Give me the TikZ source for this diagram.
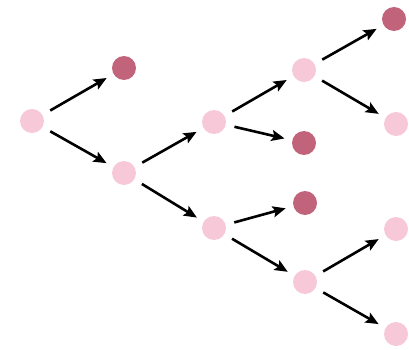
\documentclass[tikz,border=0pt]{standalone}
\usetikzlibrary{arrows.meta}
\definecolor{lightp}{HTML}{F7C8D7}
\definecolor{darkp}{HTML}{C2637C}
\begin{document}
\begin{tikzpicture}[x=1pt,y=-1pt,
  lnode/.style={circle,fill=lightp,minimum size=24pt,inner sep=0pt,outer sep=0pt},
  dnode/.style={circle,fill=darkp,minimum size=24pt,inner sep=0pt,outer sep=0pt},
  arr/.style={line width=2.6pt,-{Stealth[length=13pt,width=11pt,inset=2.5pt]},shorten <=9pt,shorten >=8pt}]
\useasboundingbox (0,0) rectangle (409,350);
\node[lnode] (a) at (32,121) {};
\node[dnode] (b) at (124,68) {};
\node[lnode] (c) at (124,173) {};
\node[lnode] (d) at (214,122) {};
\node[lnode] (e) at (214,228) {};
\node[lnode] (f) at (304,70) {};
\node[dnode] (g) at (304,143) {};
\node[dnode] (h) at (305,203) {};
\node[lnode] (i) at (305,282) {};
\node[dnode] (j) at (394,19) {};
\node[lnode] (k) at (396,124) {};
\node[lnode] (l) at (396,229) {};
\node[lnode] (m) at (396,334) {};
\draw[arr] (a) -- (b);
\draw[arr] (a) -- (c);
\draw[arr] (c) -- (d);
\draw[arr] (c) -- (e);
\draw[arr] (d) -- (f);
\draw[arr] (d) -- (g);
\draw[arr] (e) -- (h);
\draw[arr] (e) -- (i);
\draw[arr] (f) -- (j);
\draw[arr] (f) -- (k);
\draw[arr] (i) -- (l);
\draw[arr] (i) -- (m);
\end{tikzpicture}
\end{document}
